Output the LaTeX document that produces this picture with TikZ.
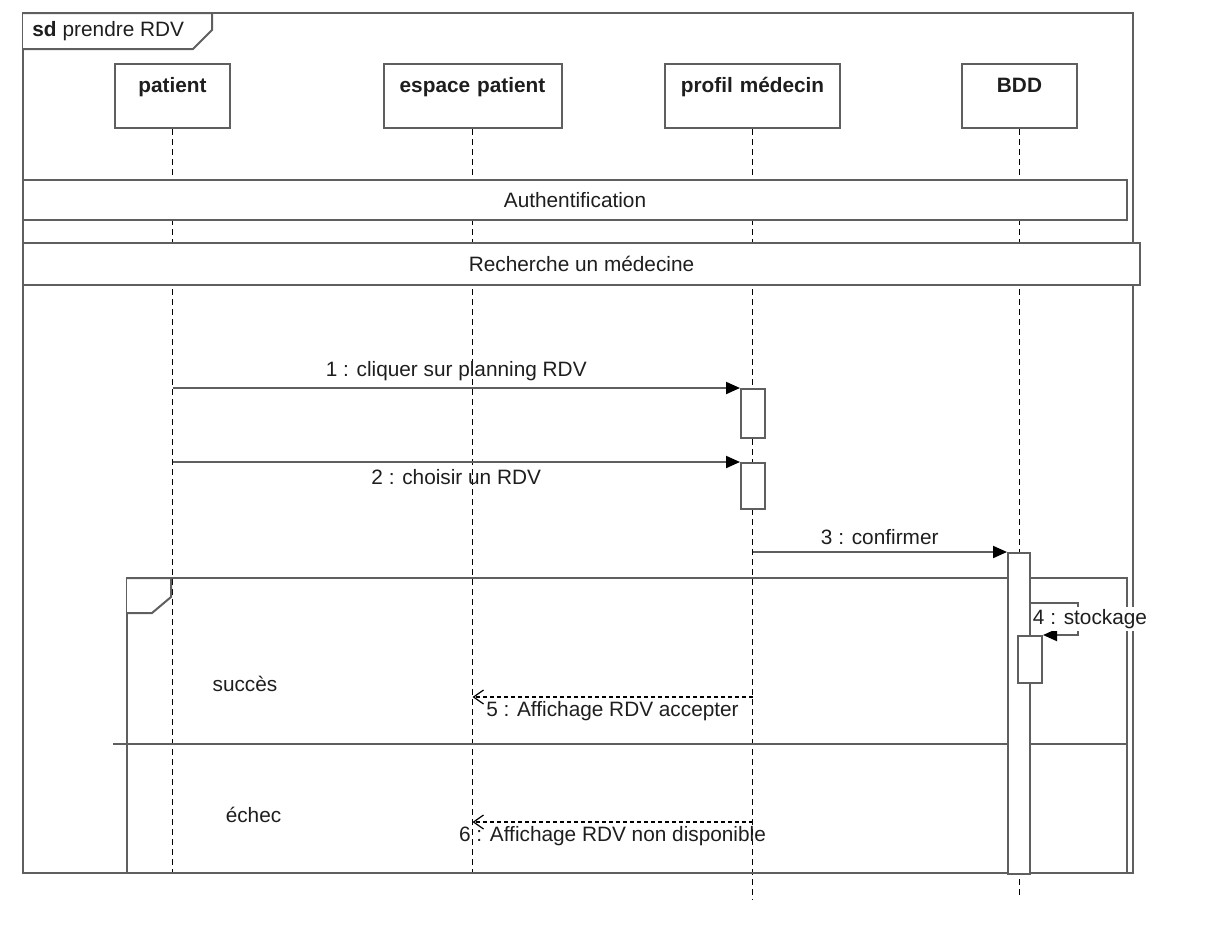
\documentclass[tikz,border=0pt]{standalone}
\usepackage{fontspec}
\setmainfont{Liberation Sans}
\usetikzlibrary{positioning,arrows.meta}
\definecolor{edge}{RGB}{95,95,95}
\definecolor{ink}{RGB}{30,30,30}

\begin{document}
\begin{tikzpicture}[x=0.5pt,y=-0.5pt,font=\fontsize{10.4}{12}\selectfont,
  head/.style={draw=edge,line width=1pt,fill=white,inner sep=0pt,text height=14.25pt,text depth=17.75pt,align=center,text=ink,font=\fontsize{10.4}{12}\selectfont\bfseries},
  life/.style={black,line width=0.6pt,dash pattern=on 3pt off 2pt},
  act/.style={draw=edge,line width=1pt,fill=white,inner sep=0pt,minimum width=12pt,anchor=north west},
  refbox/.style={draw=edge,line width=1pt,fill=white,inner sep=0pt,text=ink},
  frag/.style={draw=edge,line width=1pt},
  msg/.style={-{Triangle[length=7pt,width=6pt,black]},edge,line width=1pt},
  reply/.style={-{Straight Barb[length=5pt,width=7pt,line width=0.6pt]},black,line width=0.6pt,dash pattern=on 2pt off 1.5pt},
  lbl/.style={text=ink,inner sep=2pt}]
  \useasboundingbox (0,0) rectangle (1222,943);
  % outer frame and its tab
  \draw[frag] (23,13) rectangle (1133,873);
  \draw[frag,fill=white] (23,13) -- (212,13) -- (212,30) -- (193,49) -- (23,49);
  \node[lbl,anchor=west] (title) at (28,31) {\textbf{sd}\hspace{3pt}prendre RDV};
  % lifelines
  \node[head,text width=57.5pt] (patient) at (172.5,96) {patient};
  \node[head,text width=89pt] (espace) at (472.5,96) {espace patient};
  \node[head,text width=87.5pt] (profil) at (752.5,96) {profil médecin};
  \node[head,text width=57.5pt] (bdd) at (1019.5,96) {BDD};
  \coordinate (patient-end) at (172.5,873);
  \coordinate (espace-end) at (472.5,873);
  \coordinate (profil-end) at (752.5,900);
  \coordinate (bdd-end) at (1019.5,895);
  \draw[life] (patient) -- (patient-end);
  \draw[life] (espace) -- (espace-end);
  \draw[life] (profil) -- (profil-end);
  \draw[life] (bdd) -- (bdd-end);
  % interaction uses
  \node[refbox,minimum width=552pt,minimum height=20pt] (auth) at (575,200) {Authentification};
  \node[refbox,minimum width=558.5pt,minimum height=21pt] (search) at (581.5,264) {Recherche un médecine};
  % alt fragment
  \draw[frag] (127,578) rectangle (1127,873);
  \draw[frag,fill=white] (127,578) -- (171,578) -- (171,597) -- (152,613) -- (127,613);
  \draw[frag] (113,744) -- (1127,744);
  \node[lbl] (ok) at (245,684) {succès};
  \node[lbl] (ko) at (253.5,815) {échec};
  % activations
  \node[act,minimum height=24.5pt] (act1) at (740,388) {};
  \node[act,minimum height=23pt] (act2) at (740,462) {};
  \node[act,minimum width=11pt,minimum height=160.5pt] (act3) at (1007,552) {};
  \node[act,minimum height=23.5pt] (act4) at (1017,635) {};
  % messages
  \draw[msg] (act1.north west -| patient) -- node[lbl,above=1pt] (m1) {1 : cliquer sur planning RDV} (act1.north west);
  \draw[msg] (act2.north west -| patient) -- node[lbl,below=1pt] (m2) {2 : choisir un RDV} (act2.north west);
  \draw[msg] (act3.north west -| profil) -- node[lbl,above=1pt] (m3) {3 : confirmer} (act3.north west);
  \coordinate (loop-a) at (1078,603);
  \draw[msg] (act3.east |- loop-a) -- (loop-a) |- (act4.north east);
  \node[lbl,fill=white,inner sep=1pt] (m4) at (1090,619) {4 : stockage};
  \draw[reply] (profil |- 0,697) -- node[lbl,below=0pt] (m5) {5 : Affichage RDV accepter} (espace |- 0,697);
  \draw[reply] (profil |- 0,822) -- node[lbl,below=0pt] (m6) {6 : Affichage RDV non disponible} (espace |- 0,822);
\end{tikzpicture}
\end{document}
